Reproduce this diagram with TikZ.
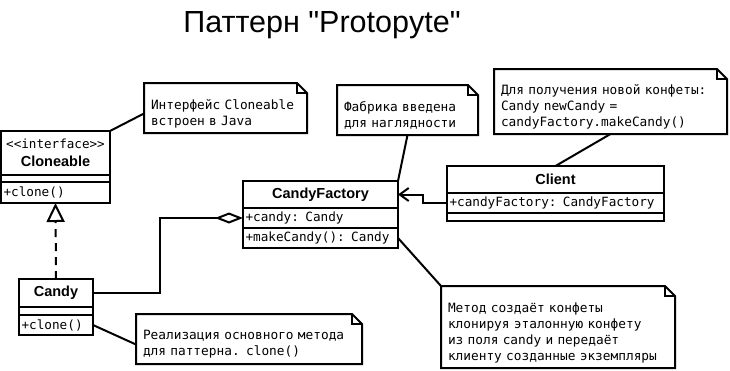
\documentclass[tikz,border=0pt]{standalone}
\usepackage{fontspec}
\setmainfont{Liberation Sans}[Ligatures=TeXOff]
\setmonofont{DejaVu Sans Mono}
\usetikzlibrary{positioning,arrows.meta}

\begin{document}
\begin{tikzpicture}[x=1pt,y=-1pt,node distance=0pt,line width=2pt]
    \tikzstyle{clshead}=[draw,outer sep=0pt,inner sep=0pt,align=center,
      font=\fontsize{14.5}{17}\selectfont\bfseries]
    \tikzstyle{clsbody}=[draw,outer sep=0pt,inner xsep=2.5pt,inner ysep=0pt,align=left,
      font=\fontsize{12.7}{15}\selectfont\ttfamily]
    \tikzstyle{clsgap}=[draw,outer sep=0pt,inner sep=0pt]
    \tikzstyle{umlnote}=[anchor=north west,outer sep=0pt,inner xsep=7pt,inner ysep=0pt,
      align=left,font=\fontsize{12.8}{16}\selectfont\ttfamily]
    \path[use as bounding box,fill=white] (0,0) rectangle (730,370);
    \node[font=\fontsize{30.5}{34}\selectfont,anchor=base] (title) at (322,32) {Паттерн "Protopyte"};
    % classes
    \node[clshead,anchor=north west,text width=109pt,minimum height=44pt] (iHead) at (1,131)
      {{\mdseries\ttfamily\fontsize{12.6}{14}\selectfont <{}<interface>{}>}\\[1pt]Cloneable};
    \node[clsgap,below=of iHead,minimum width=109pt,minimum height=7pt] (iAttr) {};
    \node[clsbody,below=of iAttr,text width=104pt,minimum height=21pt] (iMeth) {+clone()};
    \node[clshead,anchor=north west,text width=74pt,minimum height=28pt] (kHead) at (19,279) {Candy};
    \node[clsgap,below=of kHead,minimum width=74pt,minimum height=8pt] (kAttr) {};
    \node[clsbody,below=of kAttr,text width=69pt,minimum height=20pt] (kMeth) {+clone()};
    \node[clshead,anchor=north west,text width=155pt,minimum height=27pt] (fHead) at (243,181) {CandyFactory};
    \node[clsbody,below=of fHead,text width=150pt,minimum height=20pt] (fAttr) {+candy: Candy};
    \node[clsbody,below=of fAttr,text width=150pt,minimum height=20pt] (fMeth) {+makeCandy(): Candy};
    \node[clshead,anchor=north west,text width=217pt,minimum height=27pt] (cHead) at (447,166) {Client};
    \node[clsbody,below=of cHead,text width=212pt,minimum height=20pt] (cAttr) {+candyFactory: CandyFactory};
    \node[clsgap,below=of cAttr,minimum width=217pt,minimum height=8pt] (cMeth) {};
    % notes
    \node[umlnote,text width=149pt,minimum height=39pt] (nJava) at (144,94) {Интерфейс Cloneable\\встроен в Java};
    \node[umlnote,text width=127pt,minimum height=39pt] (nFab) at (337,96) {Фабрика введена\\для наглядности};
    \node[umlnote,text width=219pt,minimum height=54pt] (nCli) at (494,80)
      {Для получения новой конфеты:\\Candy newCandy =\\candyFactory.makeCandy()};
    \node[umlnote,text width=220pt,minimum height=71pt] (nMeth) at (441,297)
      {Метод создаёт конфеты\\клонируя эталонную конфету\\из поля candy и передаёт\\клиенту созданные экземпляры};
    \node[umlnote,text width=212pt,minimum height=39pt] (nReal) at (136,325)
      {Реализация основного метода\\для паттерна. clone()};
    \foreach \n in {nJava,nFab,nCli,nMeth,nReal}{
      \draw (\n.south west) -- ([yshift=11pt]\n.north west) -- ([shift={(-10pt,11pt)}]\n.north east)
        -- ([yshift=1pt]\n.north east) -- (\n.south east) -- cycle;
      \draw ([shift={(-10pt,11pt)}]\n.north east) |- ([yshift=1pt]\n.north east);
    }
    \draw (iHead.north east) -- (nJava.west);
    \draw (nFab.south) -- (fHead.north east);
    \draw (nCli.south) -- (cHead.north);
    \draw (fMeth.east) -- ([yshift=11pt]nMeth.north west);
    \draw (kMeth.east) -- (nReal.west);
    % relations
    \draw[dash pattern=on 8pt off 6pt,-{Triangle[open,length=19pt,width=18pt]}] (kHead.north) -- (iMeth.south);
    \draw[-{Diamond[open,length=28pt,width=11pt]}] (kHead.east) -- ++(67,0) |- (fAttr.west);
    \draw[-{Straight Barb[length=9pt,width=13pt]}] (cAttr.west) -- ++(-24,0) |- (fHead.east);
  \end{tikzpicture}
\end{document}
